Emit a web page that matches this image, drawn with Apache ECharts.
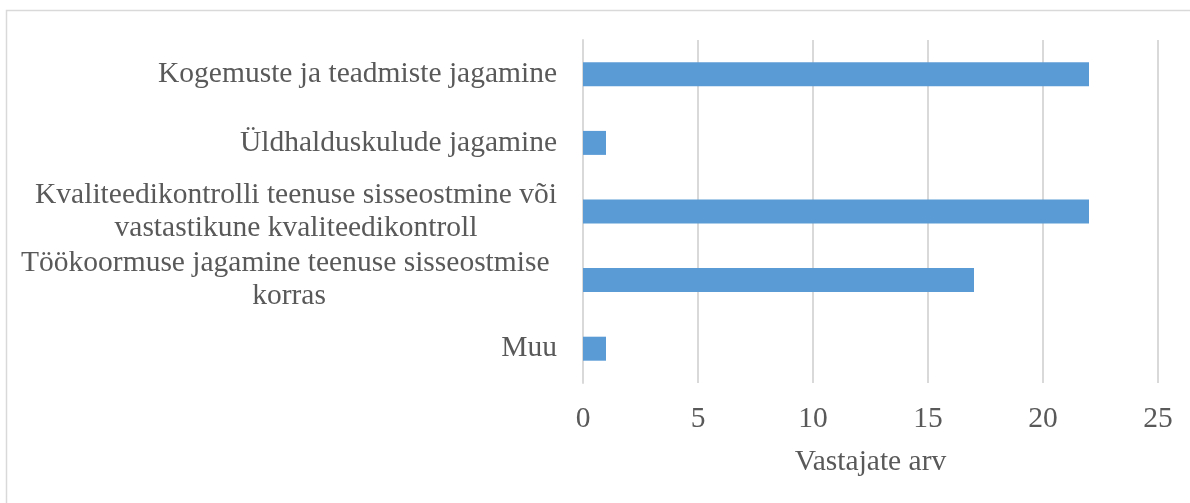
<!DOCTYPE html>
<html>
<head>
<meta charset="utf-8">
<script src="https://cdn.jsdelivr.net/npm/echarts@6/dist/echarts.min.js"></script>
<style>
  html, body { margin: 0; padding: 0; background: #fff; }
  #main { width: 1190px; height: 503px; }
</style>
</head>
<body>
<div id="main"></div>
<script>
// andmed
var categories = [
  'Kogemuste ja teadmiste jagamine',
  'Üldhalduskulude jagamine',
  'Kvaliteedikontrolli teenuse sisseostmine või\nvastastikune kvaliteedikontroll',
  'Töökoormuse jagamine teenuse sisseostmise \nkorras',
  'Muu'
];
var values = [22, 1, 22, 17, 1];
var xTicks = [0, 5, 10, 15, 20, 25];
var xName = 'Vastajate arv';

var fontFam = '"Liberation Serif", "Times New Roman", serif';
var textColor = '#595959';
var labelSize = 29.5;

// mitmerealised sildid tsentreeritakse pikima rea järgi
var ctx = document.createElement('canvas').getContext('2d');
ctx.font = labelSize + 'px ' + fontFam;
var rich = {};
for (var i = 0; i < categories.length; i++) {
  var lines = categories[i].split('\n');
  var w = 0;
  for (var j = 0; j < lines.length; j++) {
    w = Math.max(w, ctx.measureText(lines[j]).width);
  }
  rich['l' + i] = {
    width: Math.ceil(w),
    align: 'center',
    fontSize: labelSize,
    fontFamily: fontFam,
    color: textColor,
    lineHeight: 33
  };
}

var myChart = echarts.init(document.getElementById('main'));
var option = {
  animation: false,
  backgroundColor: '#fff',
  graphic: [{
    type: 'rect',
    shape: { x: 6.5, y: 10.5, width: 1300, height: 700 },
    style: { fill: 'none', stroke: '#d9d9d9', lineWidth: 1.5 },
    silent: true
  }],
  grid: { left: 583, right: 32, top: 40, bottom: 120 },
  xAxis: {
    type: 'value',
    min: xTicks[0],
    max: xTicks[xTicks.length - 1],
    interval: 5,
    name: xName,
    nameLocation: 'middle',
    nameGap: 64,
    nameTextStyle: { fontSize: labelSize, fontFamily: fontFam, color: textColor },
    axisLine: { show: false },
    axisTick: { show: false },
    axisLabel: { margin: 21, fontSize: labelSize, fontFamily: fontFam, color: textColor },
    splitLine: { show: true, lineStyle: { color: '#d9d9d9', width: 2 } }
  },
  yAxis: {
    type: 'category',
    inverse: true,
    data: categories,
    axisLine: { show: true, lineStyle: { color: '#d9d9d9', width: 2 } },
    axisTick: { show: false },
    axisLabel: {
      margin: 26,
      fontSize: labelSize,
      fontFamily: fontFam,
      color: textColor,
      lineHeight: 33,
      formatter: function (value, index) {
        var lines = value.split('\n');
        if (lines.length < 2) return value;
        return lines.map(function (s) { return '{l' + index + '|' + s + '}'; }).join('\n');
      },
      rich: rich
    }
  },
  series: [{
    type: 'bar',
    data: values,
    barWidth: 24,
    itemStyle: { color: '#5b9bd5' }
  }]
};
myChart.setOption(option);
</script>
</body>
</html>
